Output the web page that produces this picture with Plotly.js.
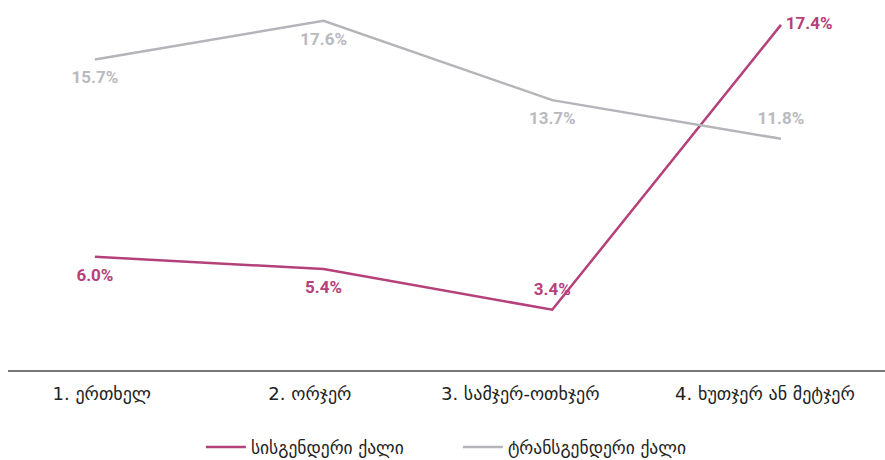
<!DOCTYPE html>
<html>
<head>
<meta charset="utf-8">
<script src="https://cdn.plot.ly/plotly-3.0.1.min.js"></script>
<style>
  html, body { margin: 0; padding: 0; background: #ffffff; }
  #chart { width: 885px; height: 460px; }
</style>
</head>
<body>
<div id="chart"></div>
<script>
// Frequency categories (x axis)
const categories = ['1. ერთხელ', '2. ორჯერ', '3. სამჯერ-ოთხჯერ', '4. ხუთჯერ ან მეტჯერ'];

// Share of respondents, %
const cisWomen = [6.0, 5.4, 3.4, 17.4];
const transWomen = [15.7, 17.6, 13.7, 11.8];

const seriesNames = ['სისგენდერი ქალი', 'ტრანსგენდერი ქალი'];

// Where each tick label sits (category serial positions, slightly off-center like the original)
const tickPositions = [0.03, 0.94, 1.86, 2.93];

const labelFont = 'Roboto, sans-serif';
const georgianFont = '"DejaVu Sans", sans-serif';

const pink = '#b5417a';
const grey = '#b4b5b9';

// markers are invisible, they only push the value labels away from the line
Plotly.newPlot('chart', [
  {
    x: categories,
    y: cisWomen,
    name: seriesNames[0],
    type: 'scatter',
    mode: 'lines+markers+text',
    cliponaxis: false,
    line: { color: pink, width: 2.5 },
    marker: { size: [16, 16, 16, 6], color: 'rgba(0,0,0,0)', line: { width: 0 } },
    text: cisWomen.map(v => v.toFixed(1) + '%'),
    textposition: ['bottom center', 'bottom center', 'top center', 'middle right'],
    textfont: { family: labelFont, size: 17, color: pink, weight: 'bold' },
    hoverinfo: 'skip',
  },
  {
    x: categories,
    y: transWomen,
    name: seriesNames[1],
    type: 'scatter',
    mode: 'lines+markers+text',
    cliponaxis: false,
    line: { color: grey, width: 2.5 },
    marker: { size: 16, color: 'rgba(0,0,0,0)', line: { width: 0 } },
    text: transWomen.map(v => v.toFixed(1) + '%'),
    textposition: ['bottom center', 'bottom center', 'bottom center', 'top center'],
    textfont: { family: labelFont, size: 17, color: '#b9bac0', weight: 'bold' },
    hoverinfo: 'skip',
  },
], {
  width: 885,
  height: 460,
  margin: { t: 10, r: 0, l: 8, b: 90 },
  showlegend: true,
  legend: {
    orientation: 'h',
    x: 0.513,
    xanchor: 'center',
    yref: 'container',
    y: 0.028,
    yanchor: 'middle',
    itemwidth: 40,
    entrywidth: 202,
    font: { family: georgianFont, size: 17.5, color: '#222222' },
  },
  xaxis: {
    type: 'category',
    range: [-0.38, 3.455],
    showgrid: false,
    zeroline: false,
    showline: true,
    linecolor: '#777777',
    linewidth: 2,
    ticks: '',
    tickmode: 'array',
    tickvals: tickPositions,
    ticktext: categories,
    tickfont: { family: georgianFont, size: 18, color: '#222222' },
    ticklabelstandoff: 6,
  },
  yaxis: {
    range: [0.44, 18.13],
    visible: false,
    showgrid: false,
    zeroline: false,
  },
  paper_bgcolor: '#ffffff',
  plot_bgcolor: '#ffffff',
}, { displayModeBar: false, staticPlot: true });
</script>
</body>
</html>
